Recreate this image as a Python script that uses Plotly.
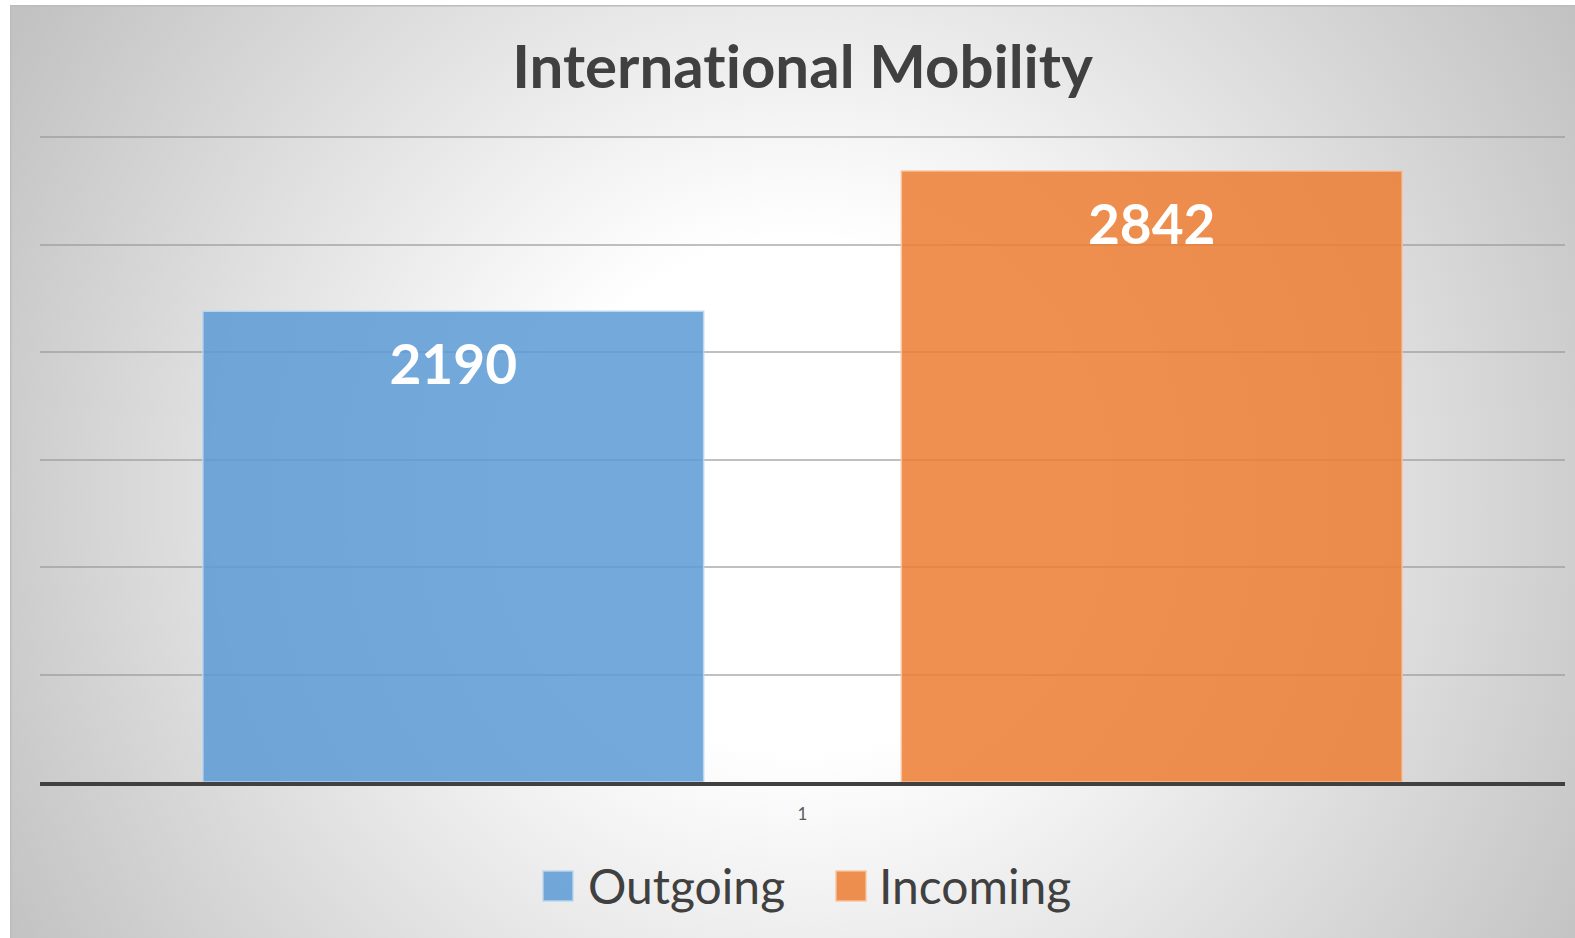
import base64
import plotly.graph_objects as go

# ---- data ----
categories = ["1"]
series_names = ["Outgoing", "Incoming"]
outgoing = [2190]
incoming = [2842]
series_values = [outgoing, incoming]
series_colors = ["rgba(91,155,213,0.85)", "rgba(237,125,49,0.85)"]
series_edges = ["rgba(190,215,240,0.9)", "rgba(248,196,160,0.9)"]
title_text = "International Mobility"

W, H = 1575, 938
ML, MR, MT, MB = 40, 10, 135, 156
PW, PH = W - ML - MR, H - MT - MB


def px_x(px):
    return (px - ML) / PW


def px_y(py):
    return (H - MB - py) / PH


# background: radial gradient chart area
svg = f"""<svg xmlns='http://www.w3.org/2000/svg' width='1565' height='933' viewBox='0 0 1565 933' preserveAspectRatio='none'>
<defs><radialGradient id='g' gradientUnits='userSpaceOnUse' cx='790' cy='490' r='910'>
<stop offset='0' stop-color='#ffffff'/><stop offset='0.28' stop-color='#ffffff'/>
<stop offset='1' stop-color='#c2c2c2'/></radialGradient></defs>
<rect x='0' y='0' width='1565' height='933' fill='url(#g)'/>
<line x1='0.75' y1='0' x2='0.75' y2='933' stroke='#bcbcbc' stroke-width='1.5'/>
<line x1='0' y1='0.75' x2='1565' y2='0.75' stroke='#bcbcbc' stroke-width='1.5'/>
</svg>"""
bg_src = "data:image/svg+xml;base64," + base64.b64encode(svg.encode()).decode()

fig = go.Figure()

for name, vals, col, edge in zip(series_names, series_values, series_colors, series_edges):
    fig.add_trace(go.Bar(
        name=name, x=categories, y=vals,
        marker=dict(color=col, line=dict(color=edge, width=1.5)),
        showlegend=False, hoverinfo="name+y",
    ))

for name, vals in zip(series_names, series_values):
    fig.add_trace(go.Scatter(
        name=name + " label", x=categories, y=vals,
        mode="markers+text", text=[str(v) for v in vals],
        textposition="bottom center",
        textfont=dict(family="Lato", size=55, color="white", weight="bold"),
        marker=dict(size=49, opacity=0),
        showlegend=False, hoverinfo="skip", cliponaxis=False,
    ))

# manual legend (large square swatches)
legend_items = [(543, 590), (836, 881)]
shapes = []
annotations = []
for (sq_x, tx_x), name, col, edge in zip(legend_items, series_names, series_colors, series_edges):
    shapes.append(dict(type="rect", xref="paper", yref="paper",
                       x0=px_x(sq_x), x1=px_x(sq_x + 30), y0=px_y(901), y1=px_y(871),
                       fillcolor=col, line=dict(color=edge, width=1.5), layer="above"))
    annotations.append(dict(text=name, xref="paper", yref="paper", x=px_x(tx_x - 4), y=px_y(885),
                            xanchor="left", yanchor="middle", showarrow=False,
                            font=dict(family="Lato", size=48, color="#404040")))

fig.update_layout(
    width=W, height=H,
    margin=dict(l=ML, r=MR, t=MT, b=MB, pad=0),
    paper_bgcolor="white", plot_bgcolor="rgba(0,0,0,0)",
    barmode="group", bargap=0.084, bargroupgap=0.283,
    scattermode="group", scattergap=0.084,
    title=dict(text=title_text, x=0.5, xref="paper", xanchor="center",
               y=1 - 67 / H, yref="container", yanchor="middle",
               font=dict(family="Lato", size=60, color="#404040", weight="bold")),
    xaxis=dict(type="category", showline=True, linecolor="#404040", linewidth=4,
               showgrid=False, ticks="", tickfont=dict(family="Lato", size=17, color="#595959"),
               ticklabelstandoff=14),
    yaxis=dict(range=[0, 3010], tick0=0, dtick=500, showticklabels=False, showgrid=True,
               gridcolor="rgba(150,150,150,0.6)", gridwidth=1.5, zeroline=False, showline=False),
    showlegend=False,
    shapes=shapes,
    annotations=annotations,
    images=[dict(source=bg_src, xref="paper", yref="paper",
                 x=px_x(10), y=px_y(5), sizex=1565 / PW, sizey=933 / PH,
                 xanchor="left", yanchor="top", sizing="stretch", layer="below")],
)

page_css = (
    "var s=document.createElement('style');"
    "s.textContent='html,body{margin:0;padding:0;overflow:hidden;} "
    "svg text{font-variant-ligatures:none !important;font-feature-settings:\"liga\" 0 !important;}';"
    "document.head.appendChild(s);"
)
fig.write_html("out.html", post_script=page_css, config={"displayModeBar": False})
